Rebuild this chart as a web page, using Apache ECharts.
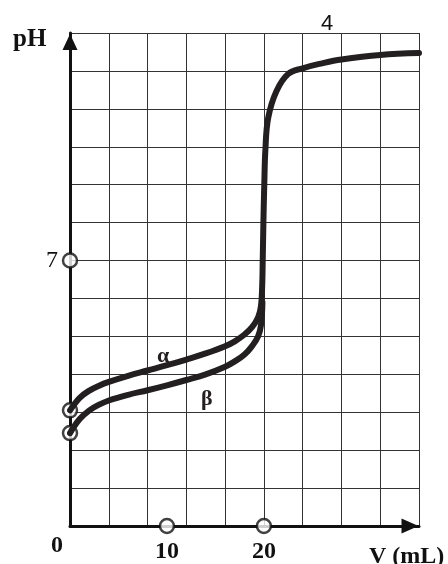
<!DOCTYPE html>
<html>
<head>
<meta charset="utf-8">
<script src="https://cdn.jsdelivr.net/npm/echarts@6/dist/echarts.min.js"></script>
<style>
html, body { margin: 0; padding: 0; background: #fff; }
#main { width: 448px; height: 564px; }
</style>
</head>
<body>
<div id="main"></div>
<script>
// curve alpha: added volume (mL) and pH, it carries the shared upper part too
var alphaV  = [0, 1, 2, 3, 4, 6, 8, 10, 12, 14, 16, 17, 18, 18.8, 19.4, 19.7, 19.82, 19.88, 19.95, 20.04, 20.16, 20.45, 21.28, 22.5, 24, 26, 28, 32, 36];
var alphaPH = [3.05, 3.38, 3.57, 3.7, 3.8, 3.96, 4.1, 4.24, 4.39, 4.55, 4.74, 4.87, 5.05, 5.25, 5.5, 5.8, 6.3, 7.0, 8.0, 9.0, 9.95, 10.77, 11.46, 11.92, 12.07, 12.2, 12.3, 12.42, 12.47];

// curve beta, joins alpha near the jump
var betaV  = [0, 1, 2, 3, 4, 6, 8, 10, 12, 14, 16, 17, 18, 18.8, 19.4, 19.7, 19.85];
var betaPH = [2.45, 2.82, 3.05, 3.2, 3.31, 3.46, 3.58, 3.71, 3.85, 4.0, 4.2, 4.34, 4.52, 4.75, 5.0, 5.3, 5.9];

// open circles on axes and at the curve starts
var ringV  = [0, 10, 20, 0, 0];
var ringPH = [7, 0, 0, 3.05, 2.45];

// labelled ticks
var xTicks = [10, 20];
var yTicks = [7];

function pairs(xs, ys) {
    return xs.map(function (x, i) { return [x, ys[i]]; });
}

var ink = '#231f20';
var serif = '"Liberation Serif", "DejaVu Serif", serif';

var chart = echarts.init(document.getElementById('main'), null, { renderer: 'canvas' });

var curveStyle = { color: ink, width: 6, cap: 'round', join: 'round' };

var option = {
    backgroundColor: '#fff',
    animation: false,
    grid: { left: 70, right: 29, top: 33, bottom: 32 },
    xAxis: {
        type: 'value',
        min: 0,
        max: 36,
        interval: 4,
        axisLine: {
            show: true,
            onZero: false,
            symbol: ['none', 'triangle'],
            symbolSize: [15, 17],
            symbolOffset: [0, -9],
            lineStyle: { color: '#111', width: 3 }
        },
        axisTick: { show: false },
        splitLine: { show: true, lineStyle: { color: '#333', width: 1 } },
        axisLabel: {
            customValues: xTicks,
            margin: 14,
            color: '#111',
            fontFamily: serif,
            fontWeight: 'bold',
            fontSize: 24
        }
    },
    yAxis: {
        type: 'value',
        min: 0,
        max: 13,
        interval: 1,
        axisLine: {
            show: true,
            onZero: false,
            symbol: ['none', 'triangle'],
            symbolSize: [15, 16],
            symbolOffset: [0, -9],
            lineStyle: { color: '#111', width: 3 }
        },
        axisTick: { show: false },
        splitLine: { show: true, lineStyle: { color: '#333', width: 1 } },
        axisLabel: {
            customValues: yTicks,
            margin: 12,
            color: '#111',
            fontFamily: serif,
            fontSize: 24
        }
    },
    series: [
        {
            name: 'rings',
            type: 'scatter',
            z: 3,
            symbol: 'circle',
            symbolSize: 14,
            itemStyle: { color: '#fff', borderColor: '#111', borderWidth: 2.5 },
            data: pairs(ringV, ringPH)
        },
        {
            name: 'alpha',
            type: 'line',
            z: 4,
            symbol: 'none',
            smooth: 0.4,
            lineStyle: curveStyle,
            data: pairs(alphaV, alphaPH)
        },
        {
            name: 'beta',
            type: 'line',
            z: 4,
            symbol: 'none',
            smooth: 0.4,
            lineStyle: curveStyle,
            data: pairs(betaV, betaPH)
        }
    ],
    graphic: [
        { type: 'text', left: 13, top: 27, style: { text: 'pH', font: 'bold 25px ' + serif, fill: '#111' } },
        { type: 'text', left: 51, top: 534, style: { text: '0', font: 'bold 24px ' + serif, fill: '#111' } },
        { type: 'text', left: 369, top: 545, style: { text: 'V (mL)', font: 'bold 24px ' + serif, fill: '#111' } },
        { type: 'text', left: 321, top: 13, style: { text: '4', font: '22px "Liberation Sans", Arial, sans-serif', fill: '#111' } },
        { type: 'text', left: 157, top: 345, style: { text: 'α', font: 'bold 22px ' + serif, fill: ink } },
        { type: 'text', left: 201, top: 388, style: { text: 'β', font: 'bold 22px ' + serif, fill: ink } }
    ]
};

chart.setOption(option);
</script>
</body>
</html>
